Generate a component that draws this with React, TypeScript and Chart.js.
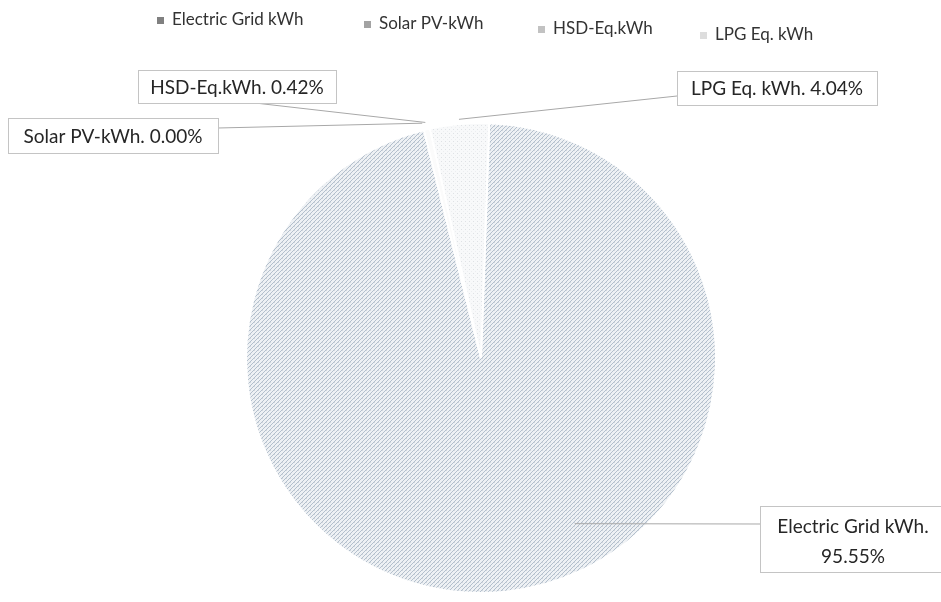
import React, { useEffect, useRef } from "react";
import { Chart, registerables } from "chart.js";

Chart.register(...registerables);

const categories = ["Electric Grid kWh", "Solar PV-kWh", "HSD-Eq.kWh", "LPG Eq. kWh"];
const shares = [95.55, 0.0, 0.42, 4.04];

const legendColors = ["#808080", "#a3a3a3", "#c2c2c2", "#dddddd"];
const legendX = [157, 364, 538, 700];
const legendY = [20, 24, 29, 35];

// callout layout (box rect, leader start, leader target on the arc)
const calloutLayout = [
  { box: { x: 760, y: 506, w: 186, h: 66 }, from: { x: 760, y: 524 }, angleDeg: 150.5, rFrac: 0.81, twoLines: true },
  { box: { x: 8, y: 118, w: 210, h: 35 }, from: { x: 218, y: 128 }, rFrac: 1.03, twoLines: false },
  { box: { x: 138, y: 70, w: 198, h: 33 }, from: { x: 255, y: 103 }, rFrac: 1.03, twoLines: false },
  { box: { x: 677, y: 71, w: 200, h: 34 }, from: { x: 677, y: 96 }, rFrac: 1.02, twoLines: false },
];

function makePattern(kind: string): CanvasPattern | string {
  const c = document.createElement("canvas");
  c.width = 4;
  c.height = 4;
  const g = c.getContext("2d")!;
  if (kind === "hatch") {
    g.fillStyle = "#eef1f4";
    g.fillRect(0, 0, 4, 4);
    g.fillStyle = "#b3bfcc";
    for (let i = 0; i < 4; i++) g.fillRect(i, 3 - i, 1, 1);
    g.fillStyle = "#d2d8df";
    g.fillRect(2, 2, 1, 1);
  } else if (kind === "dots") {
    g.fillStyle = "#f8f9fa";
    g.fillRect(0, 0, 4, 4);
    g.fillStyle = "#dfe2e5";
    g.fillRect(1, 1, 1, 1);
    g.fillStyle = "#eceef0";
    g.fillRect(3, 3, 1, 1);
  } else if (kind === "grey") {
    g.fillStyle = "#d0d4d8";
    g.fillRect(0, 0, 4, 4);
  } else {
    g.fillStyle = "#fbfbfb";
    g.fillRect(0, 0, 4, 4);
  }
  const p = g.createPattern(c, "repeat");
  return p || "#dddddd";
}

const calloutPlugin = {
  id: "callouts",
  afterDraw(chart: any) {
    const ctx: CanvasRenderingContext2D = chart.ctx;
    const meta = chart.getDatasetMeta(0);
    ctx.save();
    // legend
    ctx.font = "17px Lato";
    ctx.textBaseline = "middle";
    ctx.textAlign = "left";
    categories.forEach((name, i) => {
      const x = legendX[i];
      const y = legendY[i];
      ctx.fillStyle = legendColors[i];
      ctx.fillRect(x, y - 3, 7, 7);
      ctx.fillStyle = "#333333";
      ctx.fillText(name, x + 15, y);
    });
    // callouts
    meta.data.forEach((arc: any, i: number) => {
      const L = calloutLayout[i];
      const p = arc.getProps(["x", "y", "startAngle", "endAngle", "outerRadius"], true);
      const ang =
        L.angleDeg !== undefined
          ? (L.angleDeg * Math.PI) / 180 - Math.PI / 2
          : (p.startAngle + p.endAngle) / 2;
      const r = p.outerRadius * L.rFrac;
      const tx = p.x + Math.cos(ang) * r;
      const ty = p.y + Math.sin(ang) * r;
      ctx.strokeStyle = "#a8a8a8";
      ctx.lineWidth = 1;
      ctx.beginPath();
      ctx.moveTo(L.from.x, L.from.y);
      ctx.lineTo(tx, ty);
      ctx.stroke();
      const b = L.box;
      ctx.fillStyle = "#ffffff";
      ctx.fillRect(b.x, b.y, b.w, b.h);
      ctx.strokeStyle = "#c4c4c4";
      ctx.strokeRect(b.x + 0.5, b.y + 0.5, b.w, b.h);
      ctx.fillStyle = "#262626";
      ctx.font = "19px Lato";
      ctx.textAlign = "center";
      const val = shares[i].toFixed(2) + "%";
      const cx = b.x + b.w / 2;
      if (L.twoLines) {
        ctx.fillText(categories[i] + ".", cx, b.y + 21);
        ctx.fillText(val, cx, b.y + 51);
      } else {
        ctx.fillText(categories[i] + ". " + val, cx, b.y + b.h / 2 + 1);
      }
    });
    ctx.restore();
  },
};

export default function App() {
  const ref = useRef<HTMLCanvasElement>(null);
  useEffect(() => {
    document.body.style.margin = "0";
    const canvas = ref.current!;
    const chart = new Chart(canvas, {
      type: "pie",
      data: {
        labels: categories,
        datasets: [
          {
            data: shares,
            backgroundColor: [makePattern("hatch"), makePattern("grey"), makePattern("white"), makePattern("dots")],
            borderColor: "#ffffff",
            borderWidth: 2,
          },
        ],
      },
      options: {
        responsive: false,
        animation: false,
        rotation: 2,
        layout: { padding: { top: 122, bottom: 8, left: 21, right: 0 } },
        plugins: {
          legend: { display: false },
          tooltip: { enabled: false },
        },
      },
      plugins: [calloutPlugin],
    });
    return () => chart.destroy();
  }, []);
  return (
    <div style={{ width: 941, height: 602, background: "#ffffff" }}>
      <canvas ref={ref} width={941} height={602} style={{ display: "block" }} />
    </div>
  );
}
